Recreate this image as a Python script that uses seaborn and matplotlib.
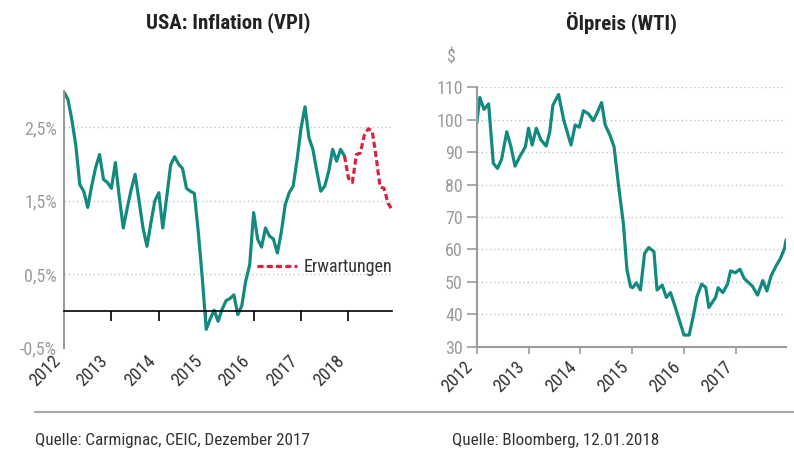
"""
Two-panel chart: US inflation (CPI, with forecast) and WTI oil price, 2012-2018.
"""

import matplotlib.pyplot as plt
from matplotlib.lines import Line2D
import numpy as np
import pandas as pd
import seaborn as sns

# --- data -------------------------------------------------------------------
# monthly US CPI yoy in %, Jan 2012 .. Dec 2017
cpi_actual = [
    2.98, 2.88, 2.60, 2.25, 1.72, 1.63, 1.41, 1.70, 1.95, 2.13, 1.79, 1.75,
    1.67, 2.02, 1.55, 1.13, 1.40, 1.65, 1.86, 1.50, 1.13, 0.88, 1.20, 1.50,
    1.61, 1.13, 1.55, 1.99, 2.10, 2.00, 1.94, 1.67, 1.63, 1.60, 1.07, 0.45,
    -0.25, -0.11, 0.01, -0.14, 0.02, 0.14, 0.17, 0.22, -0.05, 0.07, 0.41, 0.63,
    1.34, 0.98, 0.87, 1.13, 1.02, 0.98, 0.79, 1.07, 1.45, 1.61, 1.70, 2.06,
    2.49, 2.78, 2.36, 2.20, 1.90, 1.63, 1.70, 1.90, 2.20, 2.04, 2.20, 2.11,
]
# forecast, Dec 2017 .. Dec 2018
cpi_forecast = [2.11, 1.81, 1.75, 2.13, 2.15, 2.39, 2.48, 2.45, 2.10, 1.69, 1.67, 1.47, 1.38]

cpi_ticks = [-0.5, 0.5, 1.5, 2.5]
cpi_tick_labels = ["-0,5%", "0,5%", "1,5%", "2,5%"]
cpi_years = [2012, 2013, 2014, 2015, 2016, 2017, 2018]

# WTI in USD, dates as decimal years
oil_years = [
    2012.00, 2012.06, 2012.14, 2012.23, 2012.32, 2012.40, 2012.48, 2012.58,
    2012.66, 2012.74, 2012.83, 2012.94, 2013.00, 2013.07, 2013.15, 2013.24,
    2013.34, 2013.41, 2013.47, 2013.58, 2013.68, 2013.82, 2013.90, 2013.98,
    2014.06, 2014.16, 2014.25, 2014.32, 2014.41, 2014.48, 2014.57, 2014.65,
    2014.74, 2014.83, 2014.90, 2014.97, 2015.01, 2015.08, 2015.16, 2015.24,
    2015.32, 2015.42, 2015.48, 2015.58, 2015.66, 2015.74, 2015.84, 2016.00,
    2016.10, 2016.18, 2016.25, 2016.34, 2016.42, 2016.48, 2016.61, 2016.66,
    2016.75, 2016.84, 2016.90, 2016.99, 2017.08, 2017.16, 2017.25, 2017.32,
    2017.42, 2017.52, 2017.60, 2017.68, 2017.77, 2017.86, 2017.94, 2017.97,
]
oil_price = [
    98.9, 106.9, 103.2, 104.9, 86.6, 85.0, 87.8, 96.3,
    91.7, 85.7, 88.6, 91.7, 97.4, 92.2, 97.4, 93.8,
    91.9, 96.3, 104.5, 107.8, 99.9, 92.2, 98.4, 97.7,
    102.8, 101.8, 99.7, 102.0, 105.3, 98.4, 95.3, 91.7,
    79.4, 68.0, 53.7, 48.5, 48.2, 49.7, 47.5, 58.8,
    60.6, 59.3, 47.5, 49.0, 45.2, 46.7, 41.8, 33.6,
    33.6, 39.5, 45.4, 49.3, 48.3, 42.1, 45.2, 48.2,
    46.7, 49.3, 53.4, 52.8, 53.9, 51.1, 49.7, 48.7,
    45.9, 50.4, 47.2, 51.8, 54.7, 57.2, 60.3, 62.9,
]
oil_ticks = [30, 40, 50, 60, 70, 80, 90, 100, 110]
oil_years_ticks = [2012, 2013, 2014, 2015, 2016, 2017]

TEAL = "#138a80"
RED = "#d8233f"
GREY = "#9b9b9b"
GRID = "#c4c4c4"
TEXT = "#333333"

sns.set_style("white")
plt.rcParams["font.family"] = ["Roboto Condensed", "DejaVu Sans"]

fig = plt.figure(figsize=(7.94, 4.55), dpi=100)
ax1 = fig.add_axes([0.0806, 0.2358, 0.413, 0.565])
ax2 = fig.add_axes([0.6004, 0.238, 0.3896, 0.570])

# --- left: inflation --------------------------------------------------------
cpi_x = 2012 + np.arange(len(cpi_actual)) / 12
fc_x = cpi_x[-1] + np.arange(len(cpi_forecast)) / 12
df_cpi = pd.DataFrame({"jahr": cpi_x, "vpi": cpi_actual})
df_fc = pd.DataFrame({"jahr": fc_x, "vpi": cpi_forecast})

sns.lineplot(data=df_cpi, x="jahr", y="vpi", ax=ax1, color=TEAL, lw=2.3)
sns.lineplot(data=df_fc, x="jahr", y="vpi", ax=ax1, color=RED, lw=2.3,
             linestyle=(0, (1.9, 1.0)), label="Erwartungen")

ax1.set_xlim(2012, fc_x[-1])
ax1.set_ylim(-0.5, 3.0)
for v in cpi_ticks[1:]:
    ax1.axhline(v, color=GRID, lw=1, linestyle=(0, (1, 2)), zorder=0)

ax1.set_yticks(cpi_ticks, labels=cpi_tick_labels)
ax1.tick_params(axis="y", left=True, length=0, labelsize=13,
                labelcolor=GREY, pad=5)
# small outward stub at the bottom of the y axis
ax1.set_yticks([cpi_ticks[0]], minor=True)
ax1.tick_params(axis="y", which="minor", left=True, length=7, width=1.5,
                color=GREY)

ax1.spines["bottom"].set_position(("data", 0))
ax1.spines["bottom"].set_color("black")
ax1.spines["bottom"].set_linewidth(1.2)
ax1.spines["left"].set_color(GREY)
ax1.spines["left"].set_linewidth(1.5)
ax1.spines["top"].set_visible(False)
ax1.spines["right"].set_visible(False)
ax1.set_xticks(cpi_years)
ax1.tick_params(axis="x", bottom=True, direction="out", length=7, width=1.2,
                color="black", labelbottom=False)

sec = ax1.secondary_xaxis(0)
sec.set_xticks(cpi_years, labels=[str(y) for y in cpi_years])
sec.tick_params(length=0, pad=3, labelsize=13, labelcolor=TEXT)
sec.spines["bottom"].set_visible(False)
for lab in sec.get_xticklabels():
    lab.set_rotation(45)
    lab.set_ha("right")

ax1.set_xlabel("")
ax1.set_ylabel("")
ax1.legend(loc="center left", bbox_to_anchor=(0.59, 0.314), frameon=False,
           fontsize=13, handlelength=2.2, handletextpad=0.35,
           borderpad=0, borderaxespad=0, labelcolor=TEXT)

# --- right: oil price -------------------------------------------------------
df_oil = pd.DataFrame({"jahr": oil_years, "preis": oil_price})
sns.lineplot(data=df_oil, x="jahr", y="preis", ax=ax2, color=TEAL, lw=2.3)

ax2.set_xlim(2012, oil_years[-1])
ax2.set_ylim(30, 110)
for v in oil_ticks[1:]:
    ax2.axhline(v, color=GRID, lw=1, linestyle=(0, (1, 2)), zorder=0)
ax2.set_yticks(oil_ticks)
ax2.tick_params(axis="y", left=True, direction="out", length=7, width=1.2,
                color=GREY, labelsize=13, labelcolor=GREY, pad=3)
ax2.set_xticks(oil_years_ticks, labels=[str(y) for y in oil_years_ticks])
ax2.tick_params(axis="x", bottom=True, direction="out", length=5, width=1.2,
                color=GREY, labelsize=13, labelcolor=TEXT, pad=3)
for lab in ax2.get_xticklabels():
    lab.set_rotation(45)
    lab.set_ha("right")
for side in ["left", "bottom"]:
    ax2.spines[side].set_color(GREY)
    ax2.spines[side].set_linewidth(1.5)
ax2.spines["top"].set_visible(False)
ax2.spines["right"].set_visible(False)
ax2.set_xlabel("")
ax2.set_ylabel("")

# --- titles, unit, sources --------------------------------------------------
fig.text(228 / 794, 1 - 23 / 455, "USA: Inflation (VPI)", ha="center",
         va="center", fontsize=15, fontweight="bold", color="#222222")
fig.text(622 / 794, 1 - 23 / 455, "Ölpreis (WTI)", ha="center",
         va="center", fontsize=15, fontweight="bold", color="#222222")
fig.text(451 / 794, 1 - 57 / 455, "$", ha="center", va="center",
         fontsize=13, color=GREY)

fig.add_artist(Line2D([35 / 794, 1], [1 - 412 / 455] * 2,
                      transform=fig.transFigure, color="#aaaaaa", lw=1.5))
fig.text(35 / 794, 1 - 441 / 455, "Quelle: Carmignac, CEIC, Dezember 2017",
         ha="left", va="center", fontsize=12.3, color=TEXT)
fig.text(452 / 794, 1 - 441 / 455, "Quelle: Bloomberg, 12.01.2018",
         ha="left", va="center", fontsize=12.3, color=TEXT)

fig.savefig("out.png", dpi=100)
